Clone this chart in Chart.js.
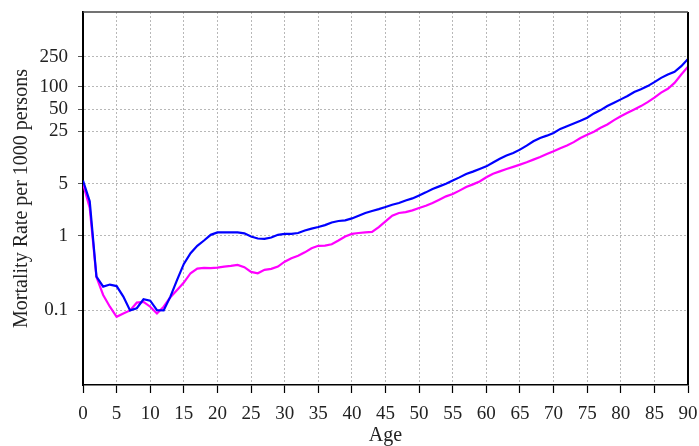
<!DOCTYPE html>
<html>
<head>
<meta charset="utf-8">
<script src="https://cdn.jsdelivr.net/npm/chart.js@4"></script>
<style>
  html, body { margin: 0; padding: 0; background: #fff; }
  #wrap { width: 699px; height: 446px; }
</style>
</head>
<body>
<div id="wrap"><canvas id="chart" width="699" height="446"></canvas></div>
<script>
// DATA
let ages = [];
for (let a = 0; a <= 90; a++) ages.push(a);

let blueRates = [
    5.5, 2.9, 0.284, 0.208, 0.222, 0.212, 0.153, 0.1, 0.107, 0.141,
    0.135, 0.101, 0.1, 0.153, 0.256, 0.42, 0.585, 0.734, 0.865, 1.03,
    1.11, 1.11, 1.11, 1.11, 1.08, 0.98, 0.92, 0.91, 0.95, 1.03,
    1.06, 1.06, 1.09, 1.18, 1.25, 1.31, 1.39, 1.51, 1.58, 1.61,
    1.71, 1.86, 2.02, 2.15, 2.28, 2.43, 2.61, 2.75, 2.98, 3.17,
    3.48, 3.82, 4.24, 4.6, 5.0, 5.5, 6.07, 6.74, 7.25, 7.87,
    8.53, 9.6, 10.8, 11.9, 12.9, 14.3, 16.2, 18.5, 20.5, 22.0,
    23.9, 27.1, 29.5, 32.0, 34.8, 38.2, 43.7, 48.4, 54.8, 60.8,
    67.4, 74.7, 84.7, 92, 101.5, 115, 131, 145, 158, 188,
    235
];

let magentaRates = [
    5.0, 2.36, 0.28, 0.161, 0.112, 0.082, 0.091, 0.1, 0.127, 0.13,
    0.112, 0.091, 0.112, 0.15, 0.188, 0.236, 0.315, 0.364, 0.372, 0.368,
    0.375, 0.387, 0.395, 0.408, 0.38, 0.328, 0.315, 0.35, 0.36, 0.387,
    0.45, 0.5, 0.54, 0.6, 0.68, 0.734, 0.74, 0.77, 0.865, 0.98,
    1.06, 1.09, 1.11, 1.13, 1.31, 1.56, 1.86, 2.02, 2.08, 2.19,
    2.36, 2.53, 2.75, 3.05, 3.38, 3.63, 4.03, 4.52, 4.89, 5.36,
    6.1, 6.8, 7.3, 7.87, 8.4, 9.0, 9.67, 10.5, 11.4, 12.5,
    13.6, 14.9, 16.2, 18.0, 20.5, 22.7, 24.9, 28.0, 31.0, 35.5,
    40.1, 44.6, 49.4, 54.8, 62, 71, 83, 93.6, 112, 145,
    185
];

let yTicks = [0.1, 1, 5, 25, 50, 100, 250];

// STYLE
let serif = "'Liberation Serif', 'DejaVu Serif', serif";
let gridGray = "#b8b8b8";
let textColor = "#222";

function points(values) {
    return ages.map((a, i) => ({ x: a, y: values[i] }));
}

// FRAME (top and right edges of the plot box)
let framePlugin = {
    id: "frame",
    afterDraw(chart) {
        let c = chart.ctx;
        let a = chart.chartArea;
        c.save();
        c.strokeStyle = "#000";
        c.lineWidth = 2;
        c.beginPath();
        c.moveTo(a.right, a.bottom);
        c.lineTo(a.right, a.top);
        c.stroke();
        c.strokeStyle = "#444";
        c.lineWidth = 1.5;
        c.beginPath();
        c.moveTo(a.left, a.top);
        c.lineTo(a.right, a.top);
        c.stroke();
        c.restore();
    }
};

new Chart(document.getElementById("chart"), {
    type: "line",
    data: {
        datasets: [
            {
                data: points(blueRates),
                borderColor: "#0000ff",
                borderWidth: 2.2,
                pointRadius: 0,
                tension: 0
            },
            {
                data: points(magentaRates),
                borderColor: "#ff00ff",
                borderWidth: 2.2,
                pointRadius: 0,
                tension: 0
            }
        ]
    },
    options: {
        responsive: false,
        animation: false,
        layout: { padding: { top: 12, right: 11, left: 0, bottom: 0 } },
        plugins: {
            legend: { display: false },
            tooltip: { enabled: false }
        },
        scales: {
            x: {
                type: "linear",
                min: 0,
                max: 90,
                afterFit(scale) {
                    scale.height = 61;
                    scale.paddingLeft = 0;
                    scale.paddingRight = 0;
                },
                ticks: {
                    stepSize: 5,
                    padding: 10,
                    color: textColor,
                    font: { family: serif, size: 19 },
                    maxRotation: 0
                },
                grid: {
                    color: gridGray,
                    lineWidth: 1,
                    tickLength: 8,
                    tickColor: "#000",
                    tickWidth: 1.2,
                    tickBorderDash: []
                },
                border: { color: "#000", width: 1.5, dash: [2, 2] },
                title: {
                    display: true,
                    text: "Age",
                    color: textColor,
                    font: { family: serif, size: 20, lineHeight: 1 },
                    padding: 0
                }
            },
            y: {
                type: "logarithmic",
                min: 0.01,
                max: 1000,
                afterFit(scale) {
                    scale.width = 83;
                    scale.paddingTop = 0;
                    scale.paddingBottom = 0;
                },
                afterBuildTicks(scale) {
                    scale.ticks = yTicks.map(v => ({ value: v }));
                },
                ticks: {
                    padding: 10,
                    color: textColor,
                    font: { family: serif, size: 19 },
                    callback: v => String(v)
                },
                grid: {
                    color: gridGray,
                    lineWidth: 1,
                    tickLength: 5,
                    tickColor: "#555",
                    tickBorderDash: []
                },
                border: { color: "#000", width: 2, dash: [2, 2] },
                title: {
                    display: true,
                    text: "Mortality Rate per 1000 persons",
                    color: textColor,
                    font: { family: serif, size: 20, lineHeight: 1 },
                    padding: 12
                }
            }
        }
    },
    plugins: [framePlugin]
});
</script>
</body>
</html>
